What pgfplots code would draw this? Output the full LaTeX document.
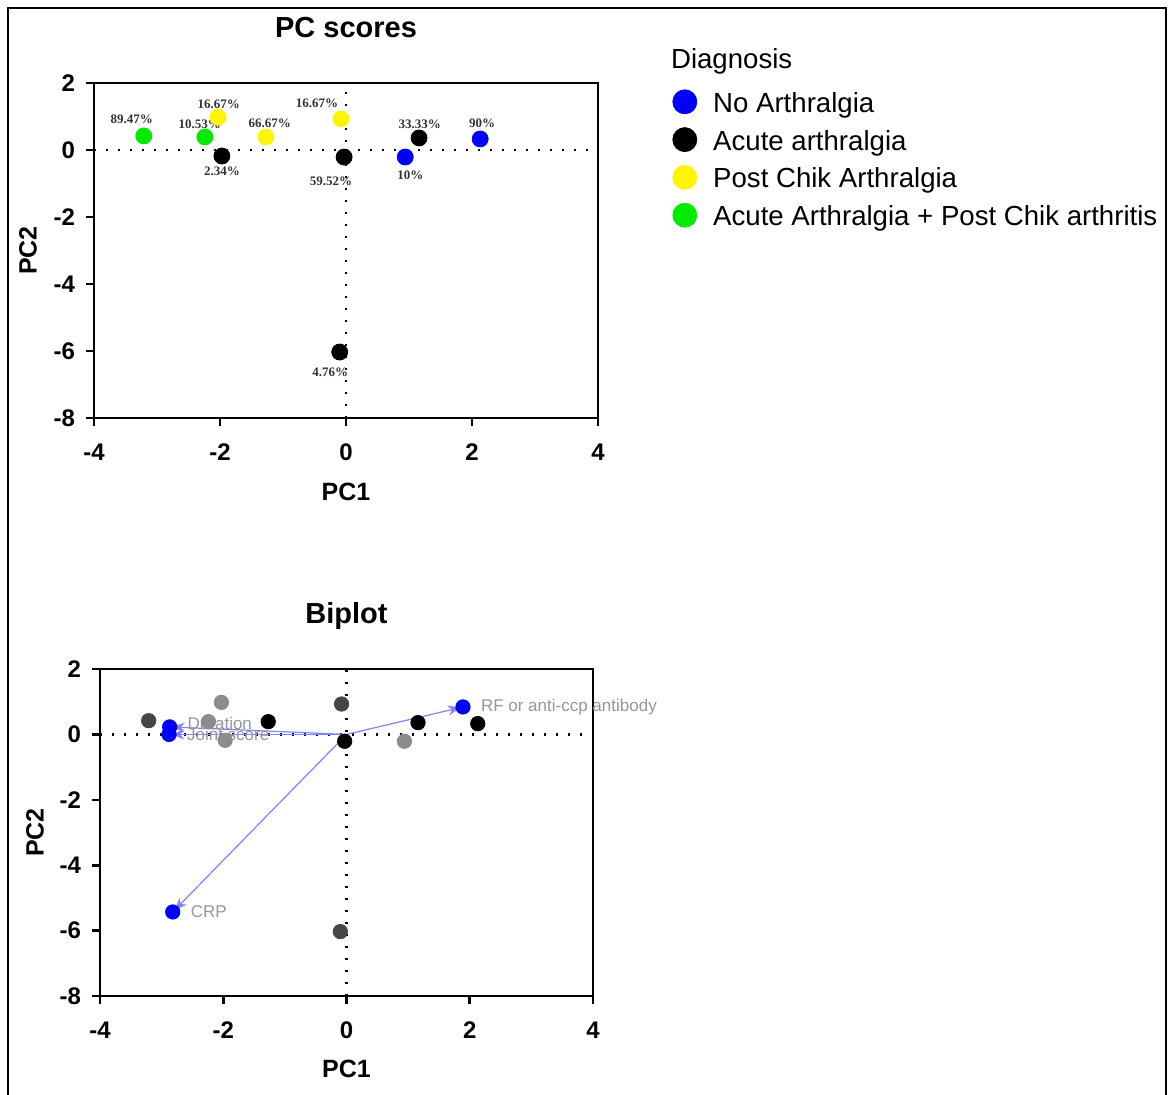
\documentclass[border=0pt]{standalone}
\usepackage{pgfplots}
\pgfplotsset{compat=1.18}
\usetikzlibrary{arrows.meta}
\usepackage{fontspec}
\setmainfont{Liberation Sans}
\newfontfamily\serifb{Liberation Serif}

\definecolor{dgray}{RGB}{70,70,70}
\definecolor{lgray}{RGB}{140,140,140}
\definecolor{arrowblue}{RGB}{130,130,255}
\definecolor{labgray}{RGB}{150,150,150}
\definecolor{pgreen}{RGB}{0,235,0}
\definecolor{pyellow}{RGB}{255,245,0}

\tikzset{
 dotline/.style={black, line width=1.2pt, dash pattern=on 1.2pt off 4.8pt},
 plab/.style={font=\serifb\bfseries\fontsize{6.5}{7}\selectfont, color=black!80},
 blab/.style={anchor=west, labgray, font=\fontsize{8.5}{10}\selectfont},
 arr/.style={arrowblue, line width=0.6pt, shorten >=1.5pt, -{Stealth[length=6pt,width=5pt]}},
}
\pgfplotsset{
 pcax/.style={
  scale only axis,
  xmin=-4,xmax=4,ymin=-8,ymax=2,
  xtick={-4,-2,0,2,4}, ytick={-8,-6,-4,-2,0,2},
  axis line style={line width=1.3pt},
  tick style={line width=1.3pt, black},
  tick align=outside, major tick length=4pt,
  xtick pos=bottom, ytick pos=left,
  tick label style={font=\fontsize{12}{14}\selectfont\bfseries},
  xticklabel style={yshift=-5.5pt},
  yticklabel style={xshift=-2pt},
  /pgf/number format/assume math mode=true,
  label style={font=\fontsize{12.5}{14}\selectfont\bfseries},
  title style={font=\fontsize{14.5}{16}\selectfont\bfseries},
  clip=false,
 },
}

\begin{document}
\begin{tikzpicture}
\path[use as bounding box] (0,0) rectangle (585pt,547pt);
\draw[line width=1pt] (4pt,-5pt) -- (4pt,543pt) -- (583pt,543pt) -- (583pt,-5pt);

\begin{axis}[pcax, at={(47pt,338pt)}, anchor=south west, width=252pt, height=167.5pt,
  title={PC scores}, title style={at={(0.5,1)},anchor=center,yshift=21.5pt},
  xlabel={PC1}, ylabel={PC2},
  xlabel style={at={(axis description cs:0.5,-0.221)},anchor=center},
  ylabel style={at={(axis description cs:-0.131,0.5)},anchor=center},
  legend cell align=left,
  legend image code/.code={\fill[#1] (6pt,1.7pt) circle (6pt);},
  legend style={at={(axis description cs:1.135,0.994)}, anchor=north west, draw=none, fill=none,
    font=\fontsize{13.8}{15}\selectfont, row sep=4.5pt,
    nodes={inner sep=0pt, text height=10pt, text depth=3pt},
    /tikz/every odd column/.append style={column sep=8pt}},
]
\addplot[dotline, forget plot] coordinates {(-4,0) (4,0)};
\addplot[dotline, forget plot] coordinates {(0,-8) (0,2)};
\addplot[only marks, mark=*, mark size=4pt, blue] coordinates {(2.13,0.33) (0.94,-0.21)};
\addlegendentry{No Arthralgia}
\addplot[only marks, mark=*, mark size=4pt, black] coordinates {(-1.97,-0.18) (-0.03,-0.21) (1.16,0.36) (-0.1,-6.03)};
\addlegendentry{Acute arthralgia}
\addplot[only marks, mark=*, mark size=4pt, pyellow] coordinates {(-2.03,0.98) (-1.27,0.39) (-0.08,0.93)};
\addlegendentry{Post Chik Arthralgia}
\addplot[only marks, mark=*, mark size=4pt, pgreen] coordinates {(-3.21,0.42) (-2.24,0.39)};
\addlegendentry{Acute Arthralgia + Post Chik arthritis}
\node[plab] at (axis cs:-3.40,0.93) {89.47\%};
\node[plab] at (axis cs:-2.32,0.78) {10.53\%};
\node[plab] at (axis cs:-2.02,1.37) {16.67\%};
\node[plab] at (axis cs:-1.21,0.81) {66.67\%};
\node[plab] at (axis cs:-0.46,1.40) {16.67\%};
\node[plab] at (axis cs:-1.97,-0.63) {2.34\%};
\node[plab] at (axis cs:-0.24,-0.93) {59.52\%};
\node[plab] at (axis cs:1.17,0.78) {33.33\%};
\node[plab] at (axis cs:2.16,0.81) {90\%};
\node[plab] at (axis cs:1.02,-0.75) {10\%};
\node[plab] at (axis cs:-0.25,-6.63) {4.76\%};
\end{axis}
\node[anchor=west, font=\fontsize{13.8}{15}\selectfont] at (332pt,516.5pt) {Diagnosis};

\begin{axis}[pcax, at={(50pt,49pt)}, anchor=south west, width=246.5pt, height=163.5pt,
  title={Biplot}, title style={at={(0.5,1)},anchor=center,yshift=20.5pt},
  xlabel={PC1}, ylabel={PC2},
  xlabel style={at={(axis description cs:0.5,-0.223)},anchor=center},
  ylabel style={at={(axis description cs:-0.132,0.5)},anchor=center},
]
\addplot[dotline] coordinates {(-4,0) (4,0)};
\addplot[dotline] coordinates {(0,-8) (0,2)};
\addplot[only marks, mark=*, mark size=3.6pt, dgray] coordinates {(-3.21,0.42) (-0.08,0.93) (-0.1,-6.03)};
\addplot[only marks, mark=*, mark size=3.6pt, lgray] coordinates {(-2.24,0.39) (-2.03,0.98) (-1.97,-0.18) (0.94,-0.21)};
\addplot[only marks, mark=*, mark size=3.6pt, black] coordinates {(-1.27,0.39) (-0.03,-0.21) (1.16,0.36) (2.13,0.33)};
\addplot[arr] coordinates {(0,0) (-2.87,0.23)};
\addplot[arr] coordinates {(0,0) (-2.88,0)};
\addplot[arr] coordinates {(0,0) (1.89,0.84)};
\addplot[arr] coordinates {(0,0) (-2.82,-5.43)};
\addplot[only marks, mark=*, mark size=3.6pt, blue] coordinates {(-2.87,0.23) (-2.88,0) (1.89,0.84) (-2.82,-5.43)};
\node[blab, xshift=5.5pt, yshift=1.5pt] at (axis cs:-2.87,0.23) {Duration};
\node[blab, xshift=5.5pt, yshift=0pt] at (axis cs:-2.88,0) {Joint score};
\node[blab, xshift=5.5pt] at (axis cs:1.89,0.84) {RF or anti-ccp antibody};
\node[blab, xshift=5.5pt] at (axis cs:-2.82,-5.43) {CRP};
\end{axis}
\end{tikzpicture}
\end{document}
